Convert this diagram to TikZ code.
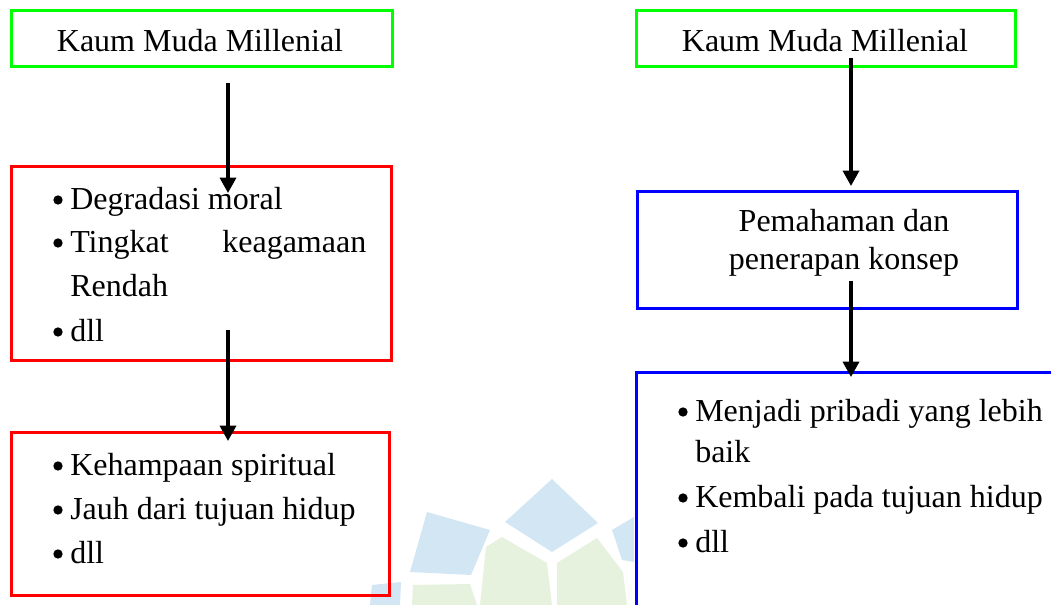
\documentclass[tikz,border=0pt]{standalone}
\usepackage{fontspec}
\setmainfont{Liberation Serif}
\usetikzlibrary{arrows.meta}
\definecolor{wmblue}{HTML}{D3E6F4}
\definecolor{wmgreen}{HTML}{E6F1DE}
\definecolor{boxgreen}{HTML}{00FF00}
\definecolor{boxred}{HTML}{FF0000}
\definecolor{boxblue}{HTML}{0000FF}
\tikzset{
  frame/.style={draw=#1, line width=2.6pt, inner sep=0pt, anchor=north west},
  txt/.style={inner sep=0pt, font=\fontsize{24}{33}\selectfont, anchor=base west},
  ctxt/.style={inner sep=0pt, font=\fontsize{24}{33}\selectfont, anchor=base},
  bul/.style={circle, fill=black, inner sep=0pt, minimum size=7pt},
  flow/.style={line width=2.5pt, -{Triangle[width=12pt,length=11.5pt]}}
}
\begin{document}
\begin{tikzpicture}[x=0.75pt,y=-0.75pt]
\useasboundingbox (0,0) rectangle (1051,605);
\clip (0,0) rectangle (1051,605);
% watermark
\fill[wmblue] (427,512) -- (490,530) -- (471,575) -- (410,572) -- cycle;
\fill[wmblue] (552,479) -- (598,523) -- (552,552) -- (505,522) -- cycle;
\fill[wmblue] (612,530) -- (634,517) -- (634,562) -- (622,560) -- cycle;
\fill[wmblue] (372,585) -- (401,582) -- (400,605) -- (370,605) -- cycle;
\fill[wmgreen] (413,585) -- (470,584) -- (477,605) -- (412,605) -- cycle;
\fill[wmgreen] (486,547) -- (502,537) -- (547,563) -- (552,605) -- (480,605) -- cycle;
\fill[wmgreen] (557,563) -- (597,538) -- (623,572) -- (627,605) -- (557,605) -- cycle;
% boxes
\node[frame=boxgreen, line width=2.2pt, minimum width=285.75pt, minimum height=42pt] (g1) at (10,9) {};
\node[frame=boxgreen, line width=2.2pt, minimum width=284.25pt, minimum height=42pt] (g2) at (635,9) {};
\node[frame=boxred, minimum width=285pt, minimum height=145.5pt] (r1) at (10,165) {};
\node[frame=boxred, minimum width=283.5pt, minimum height=122.25pt] (r2) at (10,431) {};
\node[frame=boxblue, minimum width=285pt, minimum height=87.75pt] (b1) at (636,190) {};
\node[frame=boxblue, minimum width=330pt, minimum height=200pt] (b2) at (635,371) {};
% texts
\node[ctxt] (g1t) at (200,52) {Kaum Muda Millenial};
\node[ctxt] (g2t) at (825,52) {Kaum Muda Millenial};
\node[bul] (r1b1) at (58,200) {};
\node[txt] (r1l1) at (70,210) {Degradasi moral};
\node[bul] (r1b2) at (58,243) {};
\node[txt] (r1l2) at (70,253) {\makebox[222pt][s]{Tingkat\hfill keagamaan}};
\node[txt] (r1l3) at (70,297) {Rendah};
\node[bul] (r1b3) at (58,332) {};
\node[txt] (r1l4) at (70,342) {dll};
\node[bul] (r2b1) at (58,466) {};
\node[txt] (r2l1) at (70,476) {Kehampaan spiritual};
\node[bul] (r2b2) at (58,510) {};
\node[txt] (r2l2) at (70,520) {Jauh dari tujuan hidup};
\node[bul] (r2b3) at (58,554) {};
\node[txt] (r2l3) at (70,564) {dll};
\node[ctxt] (b1l1) at (844,232) {Pemahaman dan};
\node[ctxt] (b1l2) at (844,270) {penerapan konsep};
\node[bul] (b2b1) at (683,412) {};
\node[txt] (b2l1) at (695,422) {Menjadi pribadi yang lebih};
\node[txt] (b2l2) at (695,463) {baik};
\node[bul] (b2b2) at (683,498) {};
\node[txt] (b2l3) at (695,508) {Kembali pada tujuan hidup};
\node[bul] (b2b3) at (683,543) {};
\node[txt] (b2l4) at (695,553) {dll};
% connectors
\coordinate (a1s) at (228,83);
\coordinate (a1e) at (228,193);
\coordinate (a2s) at (228,330);
\coordinate (a2e) at (228,441);
\coordinate (a3s) at (851,58);
\coordinate (a3e) at (851,186);
\coordinate (a4s) at (851,281);
\coordinate (a4e) at (851,377);
\draw[flow] (a1s) -- (a1e);
\draw[flow] (a2s) -- (a2e);
\draw[flow] (a3s) -- (a3e);
\draw[flow] (a4s) -- (a4e);
\end{tikzpicture}
\end{document}
